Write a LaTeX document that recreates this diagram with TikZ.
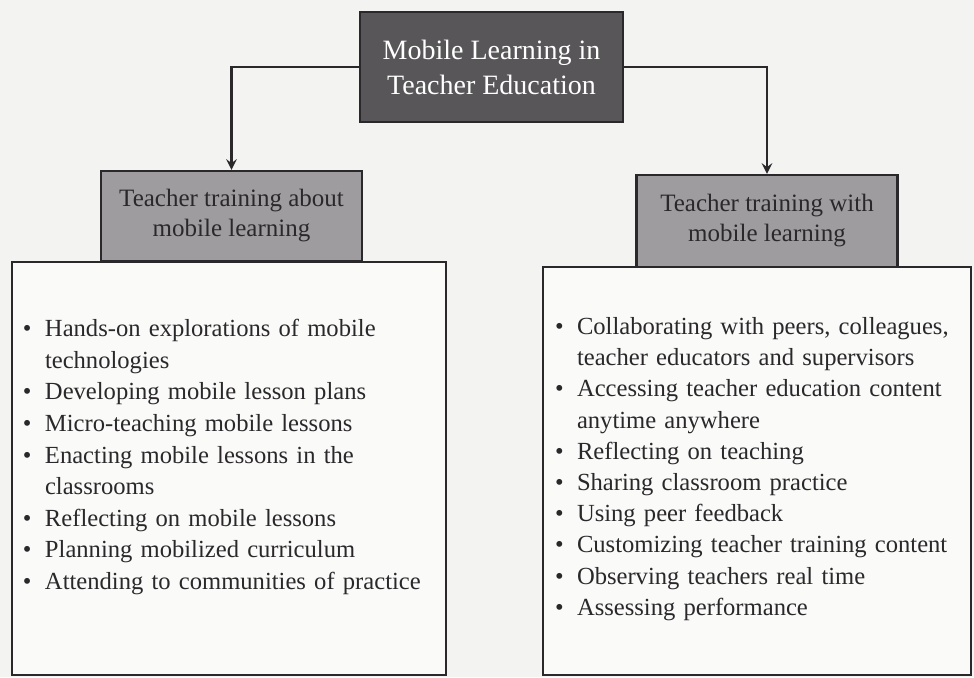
\documentclass[tikz,border=0pt]{standalone}
\usepackage{fontspec}
\setmainfont{Liberation Serif}
\definecolor{paper}{RGB}{243,243,241}
\definecolor{ink}{RGB}{42,40,42}
\definecolor{darkfill}{RGB}{88,86,88}
\definecolor{midfill}{RGB}{158,156,158}
\newcommand{\bul}{\par\hangindent=11pt\hangafter=1\noindent\makebox[11pt][l]{\textbullet}}
\begin{document}
\begin{tikzpicture}[x=0.5pt,y=-0.5pt,
    topbox/.style={draw=ink,fill=darkfill,line width=1.2pt,text=white,
      align=center,font=\fontsize{14}{17.5}\selectfont,
      minimum width=131.5pt,minimum height=55pt},
    headbox/.style={draw=ink,fill=midfill,line width=1.2pt,text=ink,
      align=center,font=\fontsize{12.5}{15}\selectfont,
      minimum width=130.5pt,minimum height=45pt},
    listbox/.style={draw=ink,fill=white!60!paper,line width=1.2pt,text=ink,
      align=left,font=\fontsize{12.3}{15.8}\selectfont,inner ysep=0pt},
    arr/.style={->,>=stealth,draw=ink,line width=1.3pt}]

    \path[use as bounding box,fill=paper] (0,0) rectangle (974,677);

    % the boxes

    \node[topbox] (top) at (491.5,67) {Mobile Learning in\\Teacher Education};

    \node[listbox,inner xsep=5.5pt,text width=206pt,minimum height=206.5pt]
    (leftlist) at (229,468.5) {%
      \bul Hands-on explorations of mobile\newline technologies
      \bul Developing mobile lesson plans
      \bul Micro-teaching mobile lessons
      \bul Enacting mobile lessons in the\newline classrooms
      \bul Reflecting on mobile lessons
      \bul Planning mobilized curriculum
      \bul Attending to communities of practice\par\vspace{18.5pt}};
    \node[listbox,inner xsep=6pt,text width=202pt,minimum height=204pt,
      font=\fontsize{12.3}{15.6}\selectfont]
    (rightlist) at (757,471) {%
      \bul Collaborating with peers, colleagues,\newline teacher educators and supervisors
      \bul Accessing teacher education content\newline anytime anywhere
      \bul Reflecting on teaching
      \bul Sharing classroom practice
      \bul Using peer feedback
      \bul Customizing teacher training content
      \bul Observing teachers real time
      \bul Assessing performance\par\vspace{9pt}};

    \node[headbox] (lefthead) at (231.5,216) {Teacher training about\\mobile learning};
    \node[headbox,minimum height=46pt] (righthead) at (767,221)
    {Teacher training with\\mobile learning};

    % the arrows

    \draw[arr] (top.west) -| (lefthead.north);
    \draw[arr] (top.east) -| (righthead.north);
  \end{tikzpicture}
\end{document}
